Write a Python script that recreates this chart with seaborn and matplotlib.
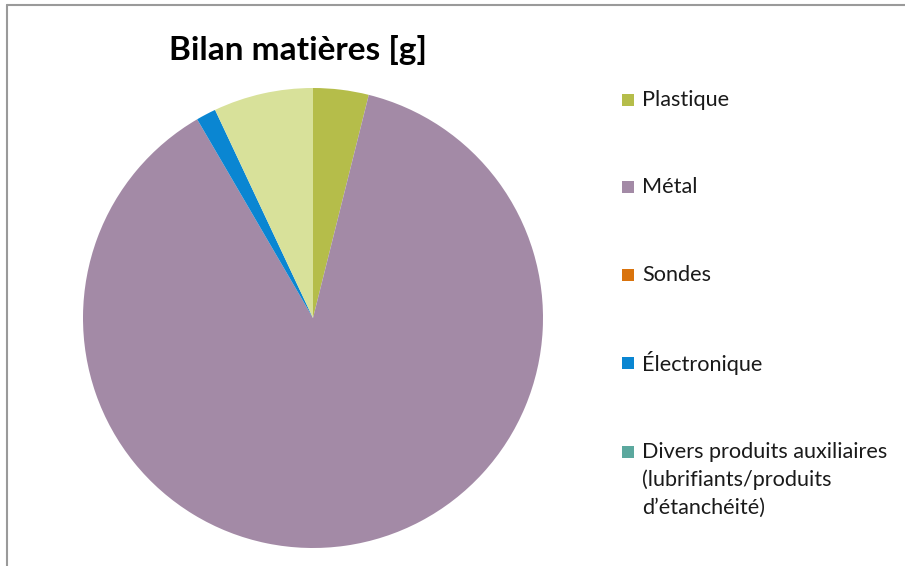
import matplotlib
matplotlib.use("Agg")
import matplotlib.pyplot as plt
import seaborn as sns
from matplotlib.patches import Rectangle
from matplotlib.lines import Line2D

categories = ["Plastique", "Métal", "Sondes", "Électronique",
              "Divers produits auxiliaires\n(lubrifiants/produits\nd\u2019étanchéité)", "Autres"]
values = [39, 877, 0, 14, 0, 70]
colors = ["#B5BD4A", "#A38AA6", "#D9730D", "#0A86D2", "#5BA89E", "#D8E19A"]
legend_count = 5
title = "Bilan matières [g]"

sns.set_theme(style="white")
plt.rcParams['font.family'] = ['Lato', 'DejaVu Sans']

W, H = 905, 566
fig = plt.figure(figsize=(W / 100, H / 100), dpi=100)
fig.patch.set_facecolor("white")

# pie axes: center (313,318) px, radius 230 px
cx, cy, r = 313, 318, 230
ax = fig.add_axes([(cx - r) / W, (H - cy - r) / H, 2 * r / W, 2 * r / H])
wedges, _ = ax.pie(values, colors=colors, startangle=90, counterclock=False,
                   radius=1, wedgeprops=dict(linewidth=0))
ax.set_xlim(-1, 1)
ax.set_ylim(-1, 1)
ax.set_axis_off()

fig.text(298 / W, 1 - 50 / H, title, ha="center", va="center",
         fontsize=24, fontweight="bold", color="black")

# legend (manual, marker aligned with first line)
ys = [100, 187, 275, 363, 452]
sq = 12
line_h = 28
for i in range(legend_count):
    y = ys[i]
    fig.patches.append(Rectangle((622 / W, (H - y - sq / 2) / H), sq / W, sq / H,
                                 transform=fig.transFigure, facecolor=colors[i],
                                 edgecolor="none"))
    for k, line in enumerate(categories[i].split("\n")):
        fig.text(642 / W, 1 - (y + k * line_h) / H, line, ha="left", va="center",
                 fontsize=15.6, color="#1a1a1a")

# chart border (top and left)
fig.add_artist(Line2D([7 / W, 7 / W], [0, 1 - 5 / H], transform=fig.transFigure,
                      color="#9a9a9a", lw=1.5))
fig.add_artist(Line2D([7 / W, 1], [1 - 5 / H, 1 - 5 / H], transform=fig.transFigure,
                      color="#9a9a9a", lw=1.5))

fig.savefig("out.png", dpi=100, facecolor="white")
